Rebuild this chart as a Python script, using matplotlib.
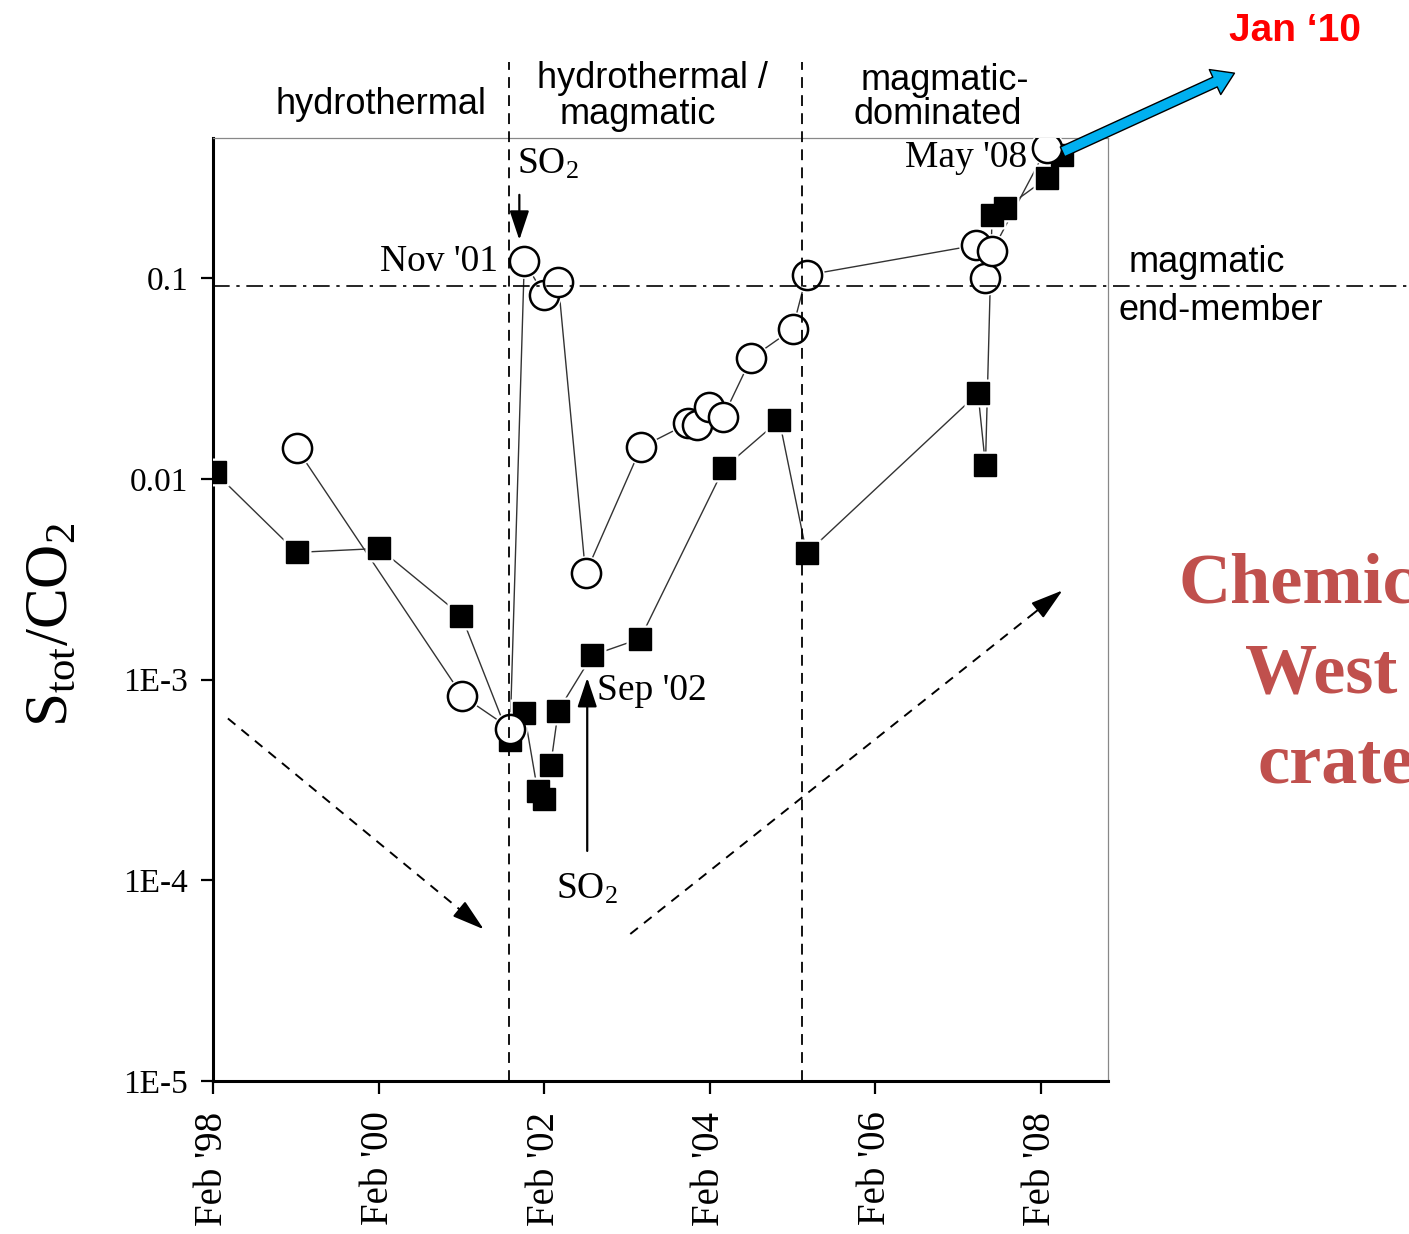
import numpy as np
import matplotlib
matplotlib.use("Agg")
import matplotlib.pyplot as plt
from matplotlib.ticker import NullLocator

# filled squares: decimal year, S_tot/CO2
sq_year = [1998.10, 1999.09, 2000.09, 2001.08, 2001.67, 2001.84, 2002.00, 2002.08,
           2002.16, 2002.25, 2002.66, 2003.24, 2004.25, 2004.92, 2005.25,
           2007.32, 2007.41, 2007.49, 2007.65, 2008.15, 2008.33]
sq_ratio = [0.0108, 0.0043, 0.0045, 0.00208, 0.0005, 0.00068, 0.00028, 0.000255,
            0.000377, 0.0007, 0.00132, 0.0016, 0.0113, 0.0196, 0.00425,
            0.0267, 0.0117, 0.206, 0.223, 0.315, 0.41]

# open circles
ci_year = [1999.09, 2001.09, 2001.67, 2001.84, 2002.08, 2002.25, 2002.58, 2003.25,
           2003.82, 2003.92, 2004.07, 2004.24, 2004.58, 2005.08, 2005.25,
           2007.30, 2007.41, 2007.49, 2008.15]
ci_ratio = [0.0142, 0.00083, 0.00057, 0.1216, 0.0823, 0.0955, 0.00338, 0.01435,
            0.0189, 0.0185, 0.0228, 0.0203, 0.0399, 0.0557, 0.1035,
            0.146, 0.100, 0.136, 0.445]

x_ticks = [1998.08, 2000.08, 2002.08, 2004.08, 2006.08, 2008.08]
x_labels = ["Feb '98", "Feb '00", "Feb '02", "Feb '04", "Feb '06", "Feb '08"]
y_ticks = [1e-5, 1e-4, 1e-3, 1e-2, 1e-1]
y_labels = ["1E-5", "1E-4", "1E-3", "0.01", "0.1"]

phase_bounds = [2001.65, 2005.2]
magmatic_end = 0.091

W, H = 1409, 1234
SERIF = "Liberation Serif"
SANS = "Liberation Sans"


def fx(px):
    return px / W


def fy(py):
    return 1 - py / H


def dashed_arrow(ax, start, end):
    # dashed shaft plus a solid head so the head is not broken up by the dashes
    (x0, y0), (x1, y1) = start, end
    t = 0.07
    xm = x1 + t * (x0 - x1)
    ym = 10 ** (np.log10(y1) + t * (np.log10(y0) - np.log10(y1)))
    ax.plot([x0, xm], [y0, ym], color="black", lw=1.4, ls=(0, (5, 4)), zorder=5)
    ax.annotate("", xy=(x1, y1), xytext=(xm, ym),
                arrowprops=dict(arrowstyle="-|>,head_length=1.0,head_width=0.3",
                                color="black", lw=1.4, mutation_scale=20,
                                shrinkA=0, shrinkB=0))


fig = plt.figure(figsize=(W / 100, H / 100), dpi=100)
ax = fig.add_axes([fx(213), fy(1081), 895 / W, 943 / H])

ax.set_yscale("log")
ax.set_xlim(1998.083, 2008.89)
ax.set_ylim(1e-5, 0.499)

# connecting lines
ax.plot(sq_year, sq_ratio, color="#333333", lw=1.0, zorder=2)
ax.plot(ci_year, ci_ratio, color="#333333", lw=1.0, zorder=2)
# white halos so the lines stop short of the markers
ax.plot(sq_year, sq_ratio, ls="none", marker="s", ms=20, mfc="white", mec="none", zorder=3)
ax.plot(ci_year, ci_ratio, ls="none", marker="o", ms=25, mfc="white", mec="none", zorder=3)
ax.plot(sq_year, sq_ratio, ls="none", marker="s", ms=15.5, mfc="black", mec="black", zorder=4)
ax.plot(ci_year, ci_ratio, ls="none", marker="o", ms=21, mfc="white", mec="black",
        mew=1.8, zorder=4)

# phase boundaries and magmatic end-member
for xb in phase_bounds:
    ax.plot([xb, xb], [1e-5, 1.2], color="black", lw=1.3, ls=(0, (6, 4)),
            zorder=5, clip_on=False)
ax.plot([1998.083, 2008.89 + (1409 - 1108) / 82.8], [magmatic_end, magmatic_end],
        color="black", lw=1.2, ls=(0, (10, 4, 2, 4)), zorder=5, clip_on=False)

# axes styling
for side in ["left", "bottom"]:
    ax.spines[side].set_linewidth(2.2)
for side in ["top", "right"]:
    ax.spines[side].set_linewidth(0.9)
    ax.spines[side].set_color("#888888")
ax.set_yticks(y_ticks)
ax.set_yticklabels(y_labels, fontfamily=SERIF, fontsize=24)
ax.yaxis.set_minor_locator(NullLocator())
ax.set_xticks(x_ticks)
ax.set_xticklabels(x_labels, fontfamily=SERIF, fontsize=28, rotation=90)
ax.tick_params(axis="y", direction="out", length=9, width=1.6, pad=9)
ax.tick_params(axis="x", direction="out", length=9, width=1.6, pad=13)

fig.text(fx(52), fy(625), r"$\mathregular{S_{tot}/CO_2}$", rotation=90,
         fontfamily=SERIF, fontsize=44, ha="center", va="center")

# annotations inside the plot
ax.text(2001.52, 0.12, "Nov '01", fontfamily=SERIF, fontsize=27, ha="right", va="center")
ax.text(2007.91, 0.40, "May '08", fontfamily=SERIF, fontsize=27, ha="right", va="center")
ax.text(2001.75, 0.37, r"$\mathregular{SO_2}$", fontfamily=SERIF, fontsize=27,
        ha="left", va="center")
ax.text(2002.6, 9.0e-5, r"$\mathregular{SO_2}$", fontfamily=SERIF, fontsize=27,
        ha="center", va="center")
ax.text(2002.72, 8.8e-4, "Sep '02", fontfamily=SERIF, fontsize=27, ha="left", va="center")

arrow_kw = dict(arrowstyle="-|>,head_length=0.9,head_width=0.3", color="black",
                lw=1.6, mutation_scale=20, shrinkA=0, shrinkB=0)
ax.annotate("", xy=(2001.78, 0.155), xytext=(2001.78, 0.26), arrowprops=arrow_kw)
ax.annotate("", xy=(2002.6, 1.02e-3), xytext=(2002.6, 1.4e-4), arrowprops=arrow_kw)

dashed_arrow(ax, (1998.26, 6.4e-4), (2001.35, 5.7e-5))
dashed_arrow(ax, (2003.12, 5.4e-5), (2008.34, 2.78e-3))

# phase headers
fig.text(fx(381), fy(105), "hydrothermal", fontfamily=SANS, fontsize=26,
         ha="center", va="center")
fig.text(fx(652), fy(79), "hydrothermal /", fontfamily=SANS, fontsize=26,
         ha="center", va="center")
fig.text(fx(638), fy(115), "magmatic", fontfamily=SANS, fontsize=26,
         ha="center", va="center")
fig.text(fx(945), fy(81), "magmatic-", fontfamily=SANS, fontsize=26,
         ha="center", va="center")
fig.text(fx(938), fy(115), "dominated", fontfamily=SANS, fontsize=26,
         ha="center", va="center")
fig.text(fx(1207), fy(263), "magmatic", fontfamily=SANS, fontsize=26,
         ha="center", va="center")
fig.text(fx(1221), fy(310), "end-member", fontfamily=SANS, fontsize=26,
         ha="center", va="center")

# slide overlay: blue arrow, red date and title cut by the slide edge
fig.patches.append(matplotlib.patches.FancyArrowPatch(
    (1060, H - 153), (1237, H - 72), transform=None,
    arrowstyle="simple,head_length=0.7,head_width=0.9,tail_width=0.35",
    mutation_scale=22, fc="#00B0F0", ec="black", lw=1.0, zorder=10))
fig.text(fx(1295), fy(31), "Jan \u201810", fontfamily=SANS, fontweight="bold",
         fontsize=28, color="#FF0000", ha="center", va="center")
for txt, x0, y0 in [("Chemical", 1178, 585), ("West", 1245, 675), ("crater", 1258, 765)]:
    fig.text(fx(x0), fy(y0), txt, fontfamily=SERIF, fontweight="bold", fontsize=52,
             color="#C0504D", ha="left", va="center")

fig.savefig("out.png", dpi=100)
